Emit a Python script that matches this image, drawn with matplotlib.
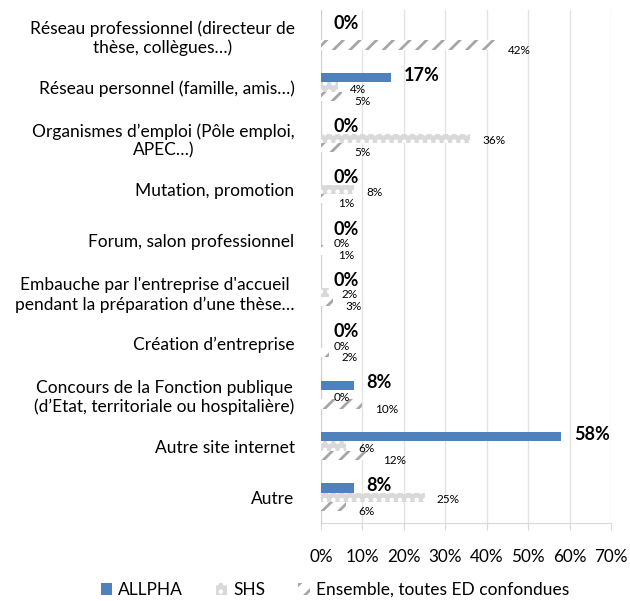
import numpy as np
import matplotlib.pyplot as plt
import matplotlib as mpl

plt.rcParams['font.family'] = ['Lato', 'DejaVu Sans']
mpl.rcParams['hatch.linewidth'] = 2.0

# --- Données ---------------------------------------------------------------

categories = [
    "Réseau professionnel (directeur de\nthèse, collègues…)",
    "Réseau personnel (famille, amis…)",
    "Organismes d’emploi (Pôle emploi,\nAPEC…)",
    "Mutation, promotion",
    "Forum, salon professionnel",
    "Embauche par l'entreprise d'accueil\npendant la préparation d’une thèse…",
    "Création d’entreprise",
    "Concours de la Fonction publique\n(d’Etat, territoriale ou hospitalière)",
    "Autre site internet",
    "Autre",
]
allpha = [0, 17, 0, 0, 0, 0, 0, 8, 58, 8]
shs = [None, 4, 36, 8, 0, 2, 0, 0, 6, 25]
ensemble = [42, 5, 5, 1, 1, 3, 2, 10, 12, 6]
series_names = ["ALLPHA", "SHS", "Ensemble, toutes ED confondues"]
xticks = [0, 10, 20, 30, 40, 50, 60, 70]

# --- Figure ----------------------------------------------------------------

fig = plt.figure(figsize=(6.3, 6.01), dpi=100)
ax = fig.add_axes([321 / 630, 1 - 523 / 601, (611 - 321) / 630, (523 - 10) / 601])

y = np.arange(len(categories))
h = 0.18

shs_vals = [v if v is not None else 0 for v in shs]
b1 = ax.barh(y - h, allpha, height=h, color='#4f81bd', zorder=3)
b2 = ax.barh(y, shs_vals, height=h, color='#d9d9d9', edgecolor='white',
             hatch='..', linewidth=0, zorder=3)
b3 = ax.barh(y + h, ensemble, height=h, color='white', edgecolor='#a6a6a6',
             hatch='//', linewidth=0, zorder=3)

off = 3.0
for i, v in enumerate(allpha):
    ax.text(v + off, y[i] - h - 0.05, f"{v}%", fontsize=13, fontweight='bold',
            va='center', ha='left', zorder=5)
for i, v in enumerate(shs):
    if v is None:
        continue
    ax.text(v + off, y[i] + 0.05, f"{v}%", fontsize=8.5, va='center', ha='left', zorder=4)
for i, v in enumerate(ensemble):
    ax.text(v + off, y[i] + h + 0.1, f"{v}%", fontsize=8.5, va='center', ha='left', zorder=4)

ax.set_xlim(0, 70)
ax.set_ylim(len(categories) - 0.5, -0.5)
ax.set_xticks(xticks)
ax.set_xticklabels([f"{t}%" for t in xticks], fontsize=12.3)
ax.set_yticks(y)
ax.set_yticklabels(categories, fontsize=12.5, multialignment='center')
ax.tick_params(axis='y', length=0, pad=19)
ax.tick_params(axis='x', length=5, color='#d9d9d9', pad=14)
ax.grid(axis='x', color='#e3e3e3', linewidth=1, zorder=0)
for s in ['top', 'right']:
    ax.spines[s].set_visible(False)
ax.spines['left'].set_color('#d0d0d0')
ax.spines['bottom'].set_color('#d9d9d9')

fig.legend([b1, b2, b3], series_names, loc='center', bbox_to_anchor=(335 / 630, 1 - 590 / 601),
           ncol=3, frameon=False, fontsize=12.5, handlelength=0.65, handleheight=0.65,
           columnspacing=1.9, handletextpad=0.35)

fig.savefig("out.png", dpi=100)
